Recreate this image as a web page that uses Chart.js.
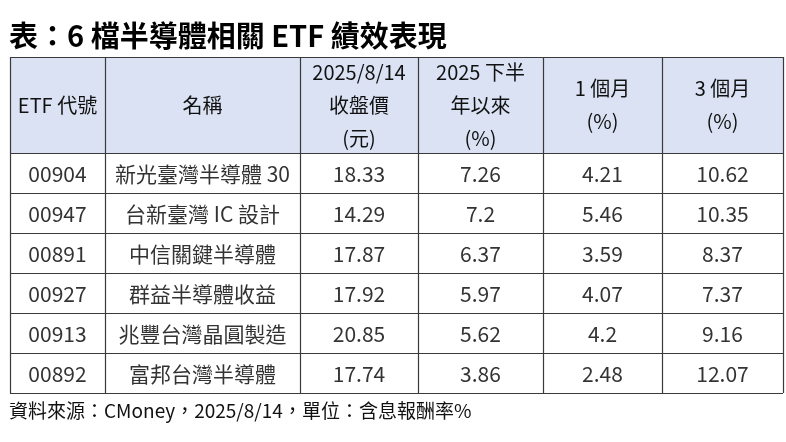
<!DOCTYPE html><html><head><meta charset="utf-8">
<script src="https://cdn.jsdelivr.net/npm/chart.js@4"></script>
<style>html,body{margin:0;background:#fff}#w{width:786px;height:442px}</style></head><body>
<div id="w"><canvas id="c" width="786" height="442"></canvas></div>
<script>
const title = "表：6 檔半導體相關 ETF 績效表現";
const footer = "資料來源：CMoney，2025/8/14，單位：含息報酬率%";
const headers = [["ETF 代號"],["名稱"],["2025/8/14","收盤價","(元)"],["2025 下半","年以來","(%)"],["1 個月","(%)"],["3 個月","(%)"]];
const codes = ["00904","00947","00891","00927","00913","00892"];
const names = ["新光臺灣半導體 30","台新臺灣 IC 設計","中信關鍵半導體","群益半導體收益","兆豐台灣晶圓製造","富邦台灣半導體"];
const prices = ["18.33","14.29","17.87","17.92","20.85","17.74"];
const h2Returns = ["7.26","7.2","6.37","5.97","5.62","3.86"];
const m1Returns = ["4.21","5.46","3.59","4.07","4.2","2.48"];
const m3Returns = ["10.62","10.35","8.37","7.37","9.16","12.07"];

const colX = [10,105,300,418,543,662,783];
const top0 = 57, headBottom = 153, rowH = 40;
const font = "'Noto Sans CJK TC','Noto Sans',sans-serif";

const tablePlugin = {
  id:'table',
  afterDraw(chart){
    const ctx = chart.ctx;
    ctx.save();
    ctx.fillStyle='#000';
    ctx.font = "bold 29px "+font;
    ctx.textBaseline='middle'; ctx.textAlign='left';
    ctx.fillText(title, 9, 36);
    const nRows = codes.length;
    const bottom = headBottom + nRows*rowH;
    ctx.fillStyle='#dae2f3';
    ctx.fillRect(colX[0], top0, colX[6]-colX[0], headBottom-top0);
    ctx.strokeStyle='#3a3a3a'; ctx.lineWidth=1.2;
    ctx.beginPath();
    colX.forEach(x=>{ctx.moveTo(x+0.5,top0);ctx.lineTo(x+0.5,bottom);});
    ctx.moveTo(colX[0],top0+0.5);ctx.lineTo(colX[6],top0+0.5);
    for(let r=0;r<=nRows;r++){const y=headBottom+r*rowH+0.5;ctx.moveTo(colX[0],y);ctx.lineTo(colX[6],y);}
    ctx.stroke();
    ctx.textAlign='center'; ctx.fillStyle='#111';
    ctx.font = "20px "+font;
    headers.forEach((lines,i)=>{
      const cx=(colX[i]+colX[i+1])/2, cy=(top0+headBottom)/2, lh=33;
      lines.forEach((t,k)=>ctx.fillText(t,cx,cy+(k-(lines.length-1)/2)*lh));
    });
    const cols=[codes,names,prices,h2Returns,m1Returns,m3Returns];
    ctx.fillStyle='#333';
    ctx.font = "21px "+font;
    for(let r=0;r<nRows;r++){
      const cy=headBottom+r*rowH+rowH/2+1;
      cols.forEach((c,i)=>ctx.fillText(c[r],(colX[i]+colX[i+1])/2,cy));
    }
    ctx.textAlign='left'; ctx.fillStyle='#111';
    ctx.font = "19px "+font;
    ctx.fillText(footer, 9, 411);
    ctx.restore();
  }
};
new Chart(document.getElementById('c'),{
  type:'bar',
  data:{labels:codes,datasets:[{data:[],backgroundColor:'transparent'}]},
  options:{responsive:false,animation:false,events:[],
    plugins:{legend:{display:false},tooltip:{enabled:false}},
    scales:{x:{display:false},y:{display:false}}},
  plugins:[tablePlugin]
});
</script></body></html>
